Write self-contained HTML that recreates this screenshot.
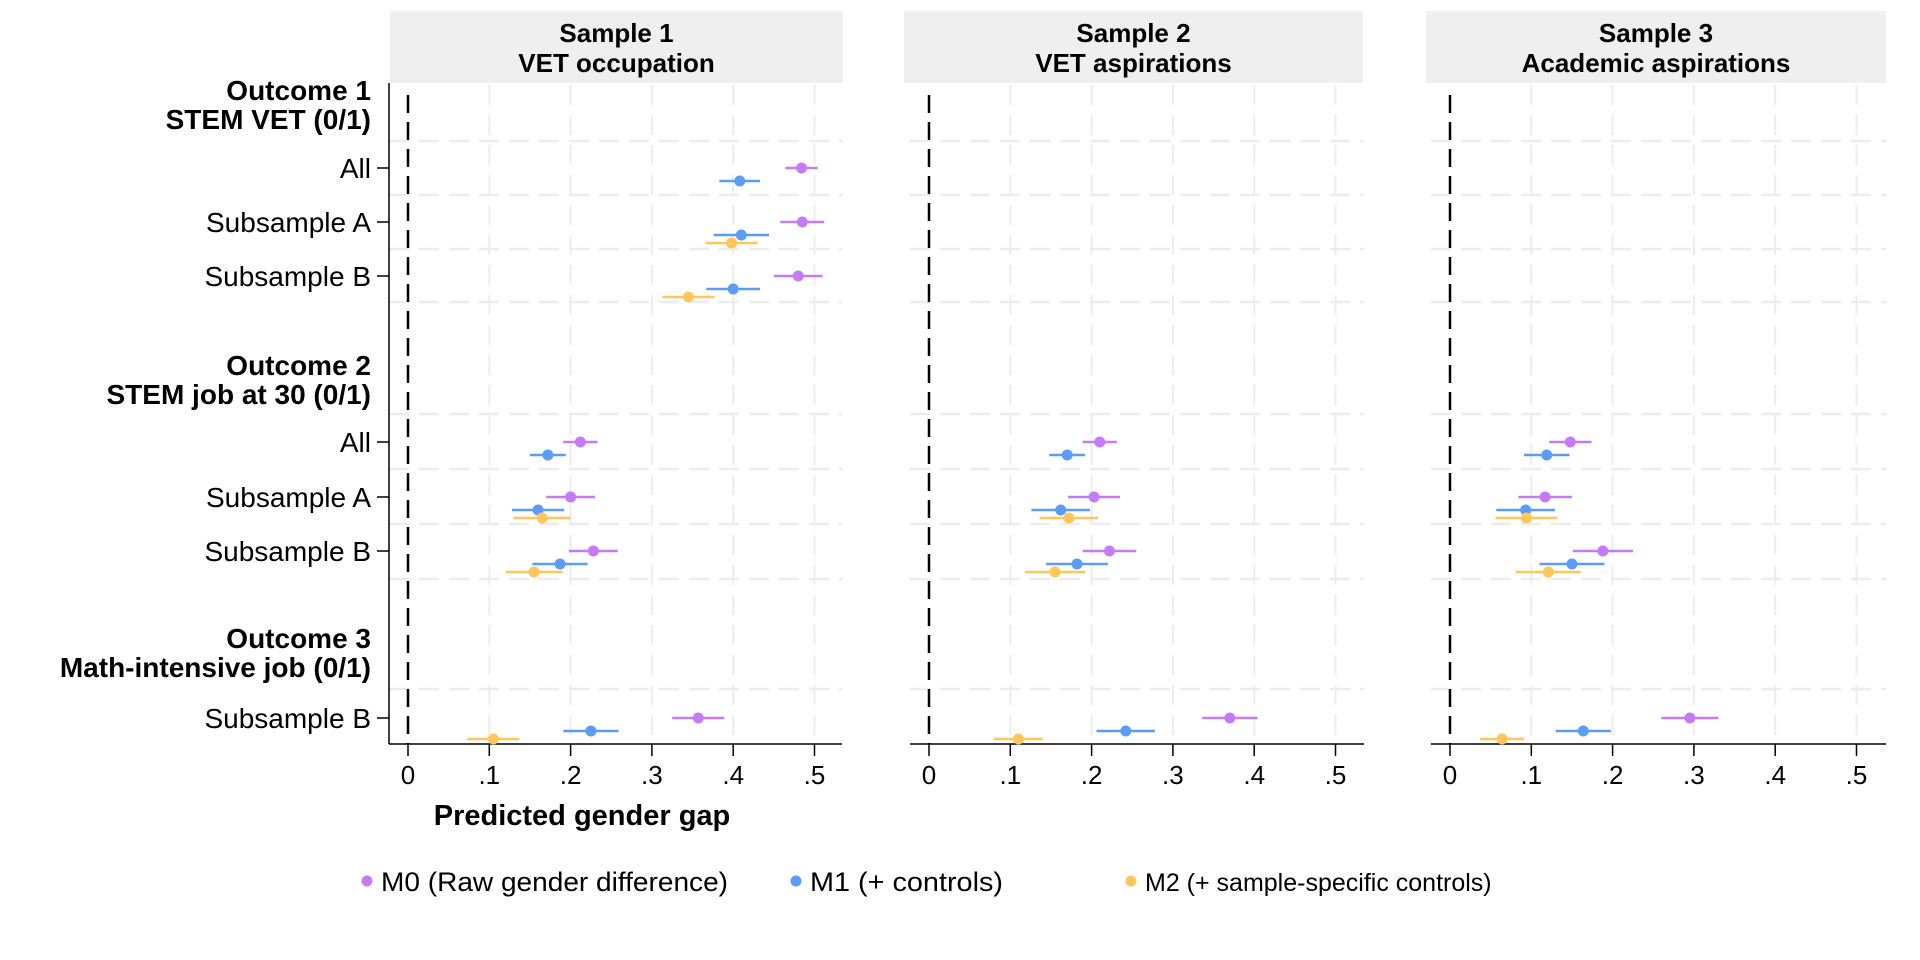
<!DOCTYPE html>
<html><head><meta charset="utf-8"><style>body{margin:0;background:#fff}svg{display:block}text{font-family:"Liberation Sans",sans-serif}</style></head>
<body>
<svg id="s" width="1920" height="960" xmlns="http://www.w3.org/2000/svg"></svg>
<script>
const s=document.getElementById('s');let h='';
const P=[{x0:408,ax:389,r:842,t1:'Sample 1',t2:'VET occupation',sl:390,sr:843},
{x0:929,ax:910,r:1364,t1:'Sample 2',t2:'VET aspirations',sl:904,sr:1363},
{x0:1450,ax:1431,r:1886,t1:'Sample 3',t2:'Academic aspirations',sl:1426,sr:1886}];
const U=813,TOP=83,BOT=744;
const C=['#c57bf8','#5b9cf5','#ffc65a'];
const hd=[141,195,249,302,414,469,524,579,689];
const rows={o1:[168,222,276],o2:[442,497,551],o3:718};
const off=[0,13,21];
const D=[
 {o1:[[[.484,.02],[.408,.025]],[[.485,.027],[.41,.034],[.398,.032]],[[.48,.03],[.40,.033],[.345,.032]]],
  o2:[[[.212,.021],[.172,.022]],[[.20,.03],[.16,.032],[.165,.035]],[[.228,.03],[.187,.034],[.155,.035]]],
  o3:[[.357,.032],[.225,.034],[.105,.032]]},
 {o1:null,
  o2:[[[.21,.021],[.17,.022]],[[.203,.032],[.162,.036],[.172,.036]],[[.222,.033],[.182,.038],[.155,.037]]],
  o3:[[.37,.034],[.242,.036],[.11,.03]]},
 {o1:null,
  o2:[[[.148,.026],[.119,.028]],[[.117,.033],[.093,.036],[.094,.038]],[[.188,.037],[.150,.04],[.121,.04]]],
  o3:[[.295,.035],[.164,.034],[.064,.027]]}];
P.forEach((p,i)=>{
 h+=`<rect x="${p.sl}" y="11" width="${p.sr-p.sl}" height="72" fill="#efefef"/>`;
 const cx=(p.sl+p.sr)/2;
 h+=`<text x="${cx}" y="42" font-size="26" font-weight="bold" text-anchor="middle">${p.t1}</text><text x="${cx}" y="72" font-size="26" font-weight="bold" text-anchor="middle">${p.t2}</text>`;
 for(let k=1;k<=5;k++){const x=p.x0+k*U*0.1;h+=`<line x1="${x}" y1="${TOP+2}" x2="${x}" y2="${BOT}" stroke="#ececec" stroke-width="2" stroke-dasharray="20,10"/>`;}
 hd.forEach(y=>h+=`<line x1="${p.ax}" y1="${y}" x2="${p.r}" y2="${y}" stroke="#ececec" stroke-width="2.5" stroke-dasharray="20,10"/>`);
 h+=`<line x1="${p.x0}" y1="${TOP+12}" x2="${p.x0}" y2="${BOT}" stroke="#000" stroke-width="2.5" stroke-dasharray="18,9"/>`;
 h+=`<line x1="${p.ax}" y1="${BOT}" x2="${p.r}" y2="${BOT}" stroke="#000" stroke-width="1.5"/>`;
 for(let k=0;k<=5;k++){const x=p.x0+k*U*0.1;h+=`<line x1="${x}" y1="${BOT}" x2="${x}" y2="${BOT+12}" stroke="#000" stroke-width="1.5"/><text x="${x}" y="${BOT+40}" font-size="26" text-anchor="middle">${k==0?'0':'.'+k}</text>`;}
 const pt=(v,hw,y,c)=>{const x=p.x0+v*U,a=p.x0+(v-hw)*U,b=p.x0+(v+hw)*U;h+=`<line x1="${a}" y1="${y}" x2="${b}" y2="${y}" stroke="${c}" stroke-width="2.5"/><circle cx="${x}" cy="${y}" r="5.5" fill="${c}"/>`;};
 const d=D[i];
 ['o1','o2'].forEach(o=>{if(!d[o])return;d[o].forEach((r,ri)=>r.forEach((m,mi)=>pt(m[0],m[1],rows[o][ri]+off[mi],C[mi])));});
 d.o3.forEach((m,mi)=>pt(m[0],m[1],rows.o3+off[mi],C[mi]));
});
h+=`<line x1="389" y1="${TOP}" x2="389" y2="${BOT}" stroke="#000" stroke-width="1.5"/>`;
const lab=(t,y,b)=>h+=`<text x="371" y="${y+10}" font-size="28" text-anchor="end" ${b?'font-weight="bold"':''}>${t}</text>`;
[[168,'All'],[222,'Subsample A'],[276,'Subsample B'],[442,'All'],[497,'Subsample A'],[551,'Subsample B'],[718,'Subsample B']].forEach(([y,t])=>{lab(t,y);h+=`<line x1="377" y1="${y}" x2="389" y2="${y}" stroke="#000" stroke-width="1.5"/>`;});
lab('Outcome 1',90,1);lab('STEM VET (0/1)',119,1);lab('Outcome 2',365,1);lab('STEM job at 30 (0/1)',394,1);lab('Outcome 3',638,1);lab('Math-intensive job (0/1)',667,1);
h+=`<text x="582" y="825" font-size="29" font-weight="bold" text-anchor="middle">Predicted gender gap</text>`;
[[367,'M0 (Raw gender difference)',0,347],[796,'M1 (+ controls)',1,193],[1131,'M2 (+ sample-specific controls)',2,0]].forEach(([x,t,c,L])=>{h+=`<circle cx="${x}" cy="881" r="5.5" fill="${C[c]}"/><text x="${x+14}" y="891" font-size="${L?27:25}" ${L?`textLength="${L}" lengthAdjust="spacingAndGlyphs"`:''}>${t}</text>`;});
s.innerHTML=h;
</script>
</body></html>
